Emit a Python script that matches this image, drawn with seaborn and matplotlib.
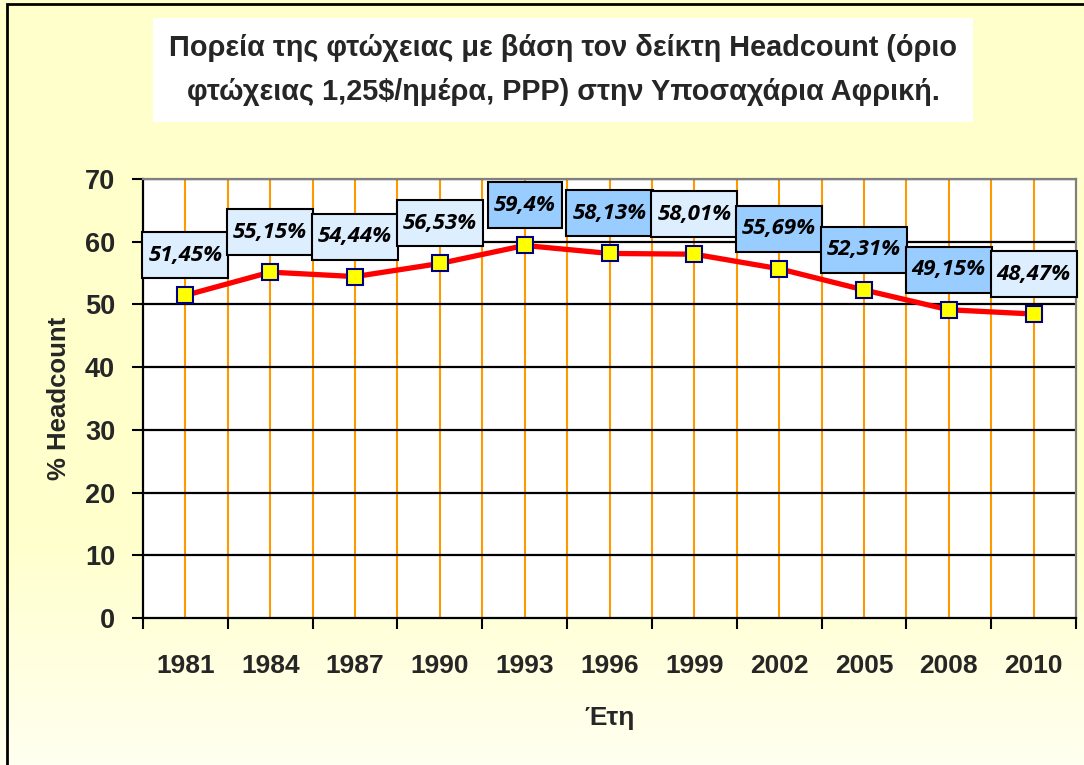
import numpy as np
import matplotlib
matplotlib.use("Agg")
import matplotlib.pyplot as plt
import seaborn as sns
from matplotlib.patches import Rectangle
from matplotlib.transforms import IdentityTransform

years = ["1981", "1984", "1987", "1990", "1993", "1996", "1999", "2002", "2005", "2008", "2010"]
headcount = [51.45, 55.15, 54.44, 56.53, 59.4, 58.13, 58.01, 55.69, 52.31, 49.15, 48.47]
label_texts = ["51,45%", "55,15%", "54,44%", "56,53%", "59,4%", "58,13%", "58,01%",
               "55,69%", "52,31%", "49,15%", "48,47%"]
label_shades = ["light", "light", "light", "light", "dark", "dark", "light",
                "dark", "dark", "dark", "light"]
y_ticks = [0, 10, 20, 30, 40, 50, 60, 70]

title = ("Πορεία της φτώχειας με βάση τον δείκτη Headcount (όριο\n"
         "φτώχειας 1,25$/ημέρα, PPP) στην Υποσαχάρια Αφρική.")
xlabel = "Έτη"
ylabel = "% Headcount"

sns.set_theme(style="white")
plt.rcParams['font.family'] = ['Liberation Sans', 'DejaVu Sans']

fig = plt.figure(figsize=(10.84, 7.65), dpi=100)

# background gradient
bg = fig.add_axes([0, 0, 1, 1], zorder=-10)
n = 400
t = np.clip((np.linspace(0, 1, n) - 0.70) / 0.30, 0, 1).reshape(-1, 1)
top_c = np.array([1.0, 1.0, 0.80])
bot_c = np.array([1.0, 1.0, 0.94])
img = top_c[None, None, :] * (1 - t[:, :, None]) + bot_c[None, None, :] * t[:, :, None]
bg.imshow(img, aspect='auto', extent=[0, 1, 1, 0])
bg.set_xlim(0, 1); bg.set_ylim(1, 0)
bg.axis('off')
bg.add_patch(Rectangle((7 / 1084, -0.1), 1.1, 1.1 - 4 / 765, fill=False, edgecolor='black',
                       linewidth=2, transform=bg.transAxes, clip_on=False))

ax = fig.add_axes([143 / 1084, 1 - 618 / 765, (1076 - 143) / 1084, (618 - 179) / 765])
ax.set_facecolor('white')

x = np.arange(len(years))
sns.lineplot(x=x, y=headcount, ax=ax, color='#FF0000', linewidth=3.8, marker='s',
             markersize=12, markerfacecolor='#FFFF00', markeredgecolor='#000080',
             markeredgewidth=1.5, zorder=5)

ax.set_xlim(-0.5, len(years) - 0.5)
ax.set_ylim(0, 70)
ax.set_yticks(y_ticks)
ax.set_yticklabels([str(v) for v in y_ticks], fontsize=19.5, fontweight='bold')
ax.set_xticks(x)
ax.set_xticklabels(years, fontsize=19, fontweight='bold')
ax.set_xticks(np.arange(-0.5, len(years), 1.0), minor=True)

ax.tick_params(axis='x', which='major', length=0, pad=26)
ax.tick_params(axis='x', which='minor', length=8, width=1.5, direction='out', color='black', bottom=True)
ax.tick_params(axis='y', which='major', length=8, width=1.5, direction='out', color='black', left=True, pad=12)

ax.grid(False)
for xv in list(x) + list(np.arange(0.5, len(years) - 0.5, 1.0)):
    ax.axvline(xv, color='#FF9900', linewidth=1.5, zorder=1)
for yv in y_ticks[1:]:
    ax.axhline(yv, color='black', linewidth=1.6, zorder=2)

for side in ['left', 'bottom']:
    ax.spines[side].set_color('black')
    ax.spines[side].set_linewidth(1.6)
for side in ['top', 'right']:
    ax.spines[side].set_color('#808080')
    ax.spines[side].set_linewidth(1.6)

ax.set_xlabel(xlabel, fontsize=19, fontweight='bold', labelpad=20)
ax.set_ylabel(ylabel, fontsize=18.5, fontweight='bold', labelpad=10)

fig.text(563 / 1084, 1 - 70 / 765, title, ha='center', va='center', fontsize=20.8,
         fontweight='bold', linespacing=1.72,
         bbox=dict(boxstyle='square,pad=0.55', facecolor='white', edgecolor='none'))

colors = {"light": "#DDEEFF", "dark": "#99CCFF"}
texts = []
for xi, yv, txt in zip(x, headcount, label_texts):
    texts.append(ax.annotate(txt, (xi, yv), xytext=(0, 28.8), textcoords='offset points',
                             ha='center', va='center', fontsize=16, fontweight='bold',
                             fontstyle='italic', family='Open Sans', color='#000000',
                             zorder=12, annotation_clip=False))

fig.canvas.draw()
renderer = fig.canvas.get_renderer()
for tx, sh in zip(texts, label_shades):
    bb = tx.get_window_extent(renderer)
    cx = (bb.x0 + bb.x1) / 2
    cy = (bb.y0 + bb.y1) / 2
    w = bb.width + 12
    h = 46
    rect = Rectangle((cx - w / 2, cy - h / 2), w, h, transform=IdentityTransform(),
                     facecolor=colors[sh], edgecolor='black', linewidth=1.5,
                     clip_on=False, zorder=10)
    ax.add_artist(rect)

fig.savefig('out.png', dpi=100)
